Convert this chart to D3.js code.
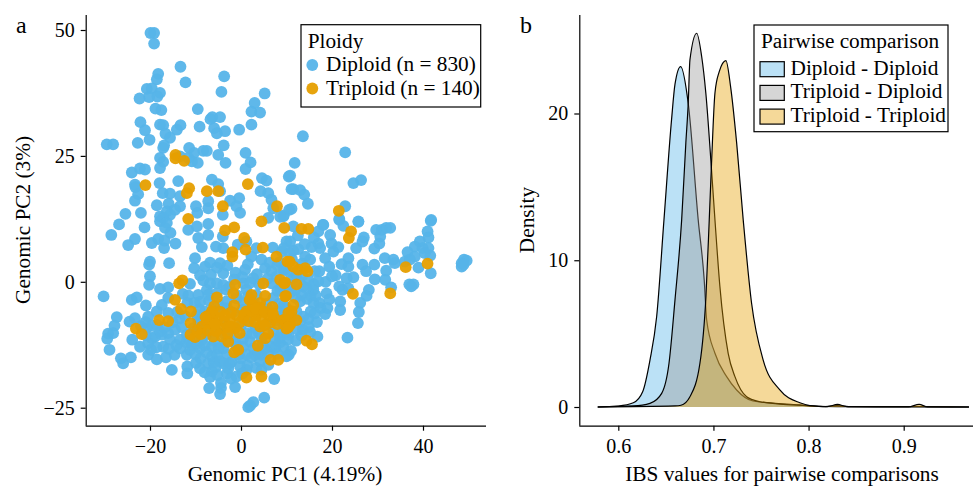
<!DOCTYPE html>
<html>
<head>
<meta charset="utf-8">
<script src="https://cdn.jsdelivr.net/npm/d3@7"></script>
<style>
  html, body { margin: 0; background: #fff; }
  text { font-family: "Liberation Serif", serif; fill: #000; }
</style>
</head>
<body>
<div id="root"></div>
<script>
// panel a, values as [PC1, PC2]
const diploidPoints = [
  [-19.9,49.4],[-19.1,49.4],[-19.1,47.3],[-13.3,42.7],[-18.2,41.3],[-18.5,40.2],[-12.2,39.6],[-3.7,40.8],[-20.7,38.3],[-19.6,38.4],
  [-17.8,37.5],[-18.4,36.8],[-20.2,36.7],[-22.3,36.4],[-4.3,37.7],[5.2,37.4],[3.0,35.5],[-18.8,34.4],[-17.5,34.1],[-9.5,34.3],
  [2.3,33.8],[4.2,33.6],[-6.3,32.7],[-4.6,32.7],[-6.7,32.3],[-22.1,31.7],[-17.8,31.2],[-17.1,31.1],[-13.3,31.1],[-14.1,30.2],
  [-9.1,30.8],[2.3,31.2],[-5.9,30.5],[-21.1,30.1],[-16.6,29.4],[-5.3,29.5],[-3.5,29.9],[-0.4,30.2],[-15.6,28.6],[-20.1,28.2],
  [-22.7,27.6],[-29.5,27.3],[-28.1,27.3],[-16.9,27.1],[-17.1,26.6],[-3.8,27.1],[-11.4,26.6],[-8.3,26.0],[-7.5,26.0],[-10.3,25.6],
  [-5.0,25.2],[1.0,25.6],[-17.8,24.6],[-17.1,23.8],[-13.4,24.9],[-9.5,23.6],[-10.8,23.9],[-11.6,24.6],[-3.4,23.6],[2.1,23.7],
  [1.0,22.4],[-24.0,21.7],[-22.2,22.5],[-21.1,22.3],[-17.8,22.6],[4.6,20.6],[5.6,20.1],[10.5,20.9],[-13.8,20.0],[-6.4,20.3],
  [-17.9,19.6],[-23.3,19.3],[-23.2,18.8],[-5.0,19.4],[4.3,18.0],[6.0,17.6],[11.1,18.4],[-17.2,17.6],[-15.6,17.5],[-22.6,17.4],
  [-4.6,18.0],[-23.3,16.1],[-13.4,17.0],[-0.4,16.6],[-2.4,16.1],[6.7,16.3],[-18.5,15.2],[-15.9,15.5],[-9.9,15.0],[-7.2,16.0],
  [-7.2,14.6],[-1.0,15.0],[7.1,14.6],[10.6,14.3],[-25.4,13.5],[-22.0,13.7],[-16.3,14.0],[-17.8,13.0],[-13.4,15.0],[-14.5,14.3],
  [-9.6,13.7],[-0.2,13.7],[-4.0,13.3],[6.0,12.7],[9.3,13.0],[-15.6,13.3],[-17.1,12.7],
  [13.6,28.9],[22.9,25.7],[11.8,23.6],[10.8,21.1],[24.7,19.6],[26.4,20.2],[11.5,18.4],[13.0,18.2],[13.9,17.3],[14.7,15.5],
  [11.1,14.5],[22.9,15.0],[9.4,13.2],[21.6,12.5],[25.8,12.0],[41.8,12.3],
  [-26.8,11.4],[-21.2,10.8],[-28.5,9.3],[-23.3,8.5],[-24.8,7.3],[-19.6,7.7],[-18.2,8.5],[-16.9,6.7],[-14.4,7.6],[-16.8,8.2],
  [-17.8,12.0],[-16.3,11.7],[-16.7,10.7],[-15.5,9.7],[-11.6,10.3],[-9.7,11.0],[-7.2,11.5],[-7.2,9.3],[-9.4,8.7],[-8.6,6.9],
  [-4.0,9.0],[-5.5,7.0],[-3.9,6.7],[-0.7,7.4],[1.2,8.0],[2.3,5.0],[3.4,6.7],[7.0,6.8],[9.0,6.0],[-20.0,4.0],
  [-20.2,3.4],[-15.8,3.7],[-10.1,4.7],[-10.3,2.7],[-7.9,3.0],[-6.8,3.8],[-4.6,3.7],[-3.9,1.7],[-6.6,1.4],[0.9,2.4],
  [4.5,4.4],[5.3,2.7],[6.7,2.1],[9.3,2.4],[-20.0,1.1],[-20.2,-0.6],[-17.8,-1.4],[-16.0,-1.1],[-11.2,-0.4],[-8.3,0.3],
  [-5.3,-0.3],[-3.9,-0.6],[0.5,-0.3],[2.7,0.7],[6.7,-0.3],[8.6,-1.6],[-30.2,-2.9],[-24.0,-3.6],[-22.9,-3.1],[-20.9,-4.7],
  [-17.4,-4.6],[-16.0,-3.2],[-11.8,-4.2],[-9.4,-2.6],[-7.5,-1.6],[-27.3,-7.0],[-27.8,-8.7],[-29.2,-10.3],[-28.1,-10.2],[-29.4,-11.3],
  [-28.9,-13.5],[-24.5,-7.9],[-23.3,-7.2],[-20.4,-6.9],[-18.5,-5.9],[-16.0,-6.2],[-23.9,-11.5],[-22.2,-12.9],[-20.4,-14.5],[-18.5,-15.4],
  [-26.4,-15.2],[-24.2,-15.0],[-25.9,-16.2],[-15.2,-17.5],[-20.7,-9.2],[-18.9,-10.9],[-17.8,-9.9],[-19.6,-11.2],[-20.4,-12.2],[-17.1,-12.9],
  [-17.4,-10.5],[-16.0,-10.2],[-14.5,-9.5],[-15.6,-11.5],[-13.4,-11.5],[-14.6,-14.5],[-11.9,-14.5],[-11.2,-13.5],[-13.4,-13.2],[-11.9,-10.5],
  [-10.8,-12.5],[-11.8,-16.8],[-11.8,-18.2],[-8.9,-15.2],[-9.0,-17.2],[-7.2,-16.2],[-6.4,-17.8],[-7.0,-21.1],[-4.4,-20.1],[-4.4,-21.1],
  [-4.6,-22.3],[-1.3,-20.9],[-1.0,-18.8],[-3.1,-18.2],[-3.9,-16.2],[-2.8,-17.2],[1.2,-17.5],[1.4,-16.6],[2.3,-15.0],[4.5,-17.5],
  [7.3,-19.3],[5.1,-23.0],[2.7,-23.9],[2.0,-24.6],[1.6,-24.9],[4.5,-14.5],[6.7,-12.9],[7.5,-13.1],[9.3,-12.9],[10.5,-14.5],
  [-7.2,-2.6],[-5.3,-2.3],[-3.2,-1.6],[-1.0,-2.6],[1.2,-1.6],[-9.7,-6.6],[-7.9,-5.9],[-10.5,-9.2],[-8.6,-11.5],[-6.4,-12.9],
  [-3.9,-13.2],[-1.0,-12.9],[2.0,-11.9],[4.5,-11.2],[7.1,-9.9],[9.3,-8.5],[-3.2,-3.9],[0.5,-4.2],[3.4,-2.6],[7.1,-3.2],
  [10.0,-5.2],[-3.2,-9.9],[1.2,-10.2],[3.1,-14.5],[-5.3,-14.5],[-6.4,-14.8],[-9.0,-13.2],[-9.7,-12.2],[-2.1,-15.9],[-0.1,-15.2],
  [4.2,-15.8],[5.3,-13.2],
  [41.7,12.1],[41.0,10.0],[41.2,8.8],[39.3,8.0],[38.2,7.0],[41.2,6.7],[41.6,5.2],[36.6,5.9],[36.0,4.0],[39.0,2.8],
  [41.7,1.7],[38.2,5.0],[37.1,4.4],[39.9,6.7],[40.4,5.7],[48.5,3.7],[49.0,4.4],[49.6,4.2],[48.5,3.0],[48.9,3.4],
  [37.0,-0.5],[37.9,-0.5],[37.4,-0.9],[31.6,4.7],[33.5,4.4],[33.8,3.7],[31.9,10.7],[32.8,10.7],[30.9,10.3],[29.7,10.3],
  [30.6,9.0],[30.4,7.6],[29.3,6.6],[25.8,11.9],[27.0,8.8],[25.3,6.7],[26.7,8.0],[22.5,11.1],[21.6,12.3],[19.6,9.3],
  [18.1,11.3],[17.0,10.0],[17.0,7.6],[17.4,6.7],[15.5,6.9],[18.5,4.7],[20.3,6.0],[21.4,6.9],[19.9,7.6],[23.6,4.7],
  [22.1,3.5],[23.6,3.0],[26.7,3.4],[29.3,3.4],[27.5,2.1],[29.4,0.5],[31.9,2.2],[31.7,0.4],[33.0,-1.1],[24.7,0.9],
  [23.2,0.7],[20.8,1.3],[19.4,3.0],[17.2,2.1],[14.1,5.0],[11.5,6.2],[10.0,8.0],[10.8,8.0],[18.0,11.3],[21.6,-0.9],
  [22.3,-1.6],[23.6,-1.3],[28.1,-1.6],[27.6,-2.8],[26.2,-4.2],[21.8,-3.9],[25.9,-6.0],[21.8,-5.6],[25.7,-8.2],[23.4,-11.1],
  [17.2,-4.2],[18.8,-2.3],[17.5,-5.2],[19.0,-5.2],[18.5,-6.4],[15.3,-5.9],[13.7,-6.9],[17.0,0.1],[15.3,-2.8],[13.3,-2.6],
  [13.7,-0.9],[15.9,-1.6],[11.9,-1.6],[11.5,0.7],[14.8,0.4],[9.7,2.4],[16.8,-10.9],[13.6,-9.5],[13.3,-10.7],[12.1,-11.7],
  [11.0,-13.7],[10.0,-14.8],[10.4,-10.5],[8.6,-11.1],[8.6,12.9],[12.2,1.4],[10.8,-0.6],[14.4,-1.3],[13.0,-3.9],[9.4,-4.6],
  [15.9,-4.2],[12.2,-5.9],[13.0,-7.9],[10.4,-8.5],[15.2,4.4],[16.2,2.1],[9.4,6.7],[10.7,5.7],
  // dense middle of the cloud
  [-9,-4],[-7,-3.8],[-5,-4.5],[-3,-5.3],[-1,-3.3],[1.5,-2.9],[3,-4.4],[5.5,-4.4],[8,-1.8],[8.3,-4.4],
  [-9.2,-5.5],[-7.4,-6.8],[-5.7,-5.9],[-3.9,-5.2],[-1.8,-6.1],[0.3,-5.6],[2.6,-5.3],[6,-5.4],[8,-6],[9.6,-6.3],
  [-9.3,-8],[-7.8,-9.2],[-6,-8],[-3.6,-8],[-2,-9],[0,-8.6],[2,-8],[3.2,-9.2],[5.5,-8.5],[8,-7.7],
  [-9.7,-10],[-7.5,-10.4],[-5.3,-9.9],[-3.7,-10.2],[-1.5,-10.6],[0.4,-11.3],[2.5,-10.3],[4,-10.2],[7.5,-11.3],[9,-10],
  [-11.3,-11.8],[-8,-12.6],[-5.8,-11.7],[-3.4,-12],[-1.3,-11.9],[0.4,-12.9],[2.8,-13.2],[4.8,-12.4],[8.5,-12],[10.3,-11.5],
  [-10,-14.4],[-7.6,-14],[-4.9,-13.2],[-3,-14.5],[-0.5,-14.4],[1.2,-14.4],[3.8,-14],[6,-14.2],[8,-14.3],[-6,-16],
  [-4.6,-15.8],[-2.5,-16.2],[-0.2,-16.8],[-5.6,-17],[-8,-18],[-6.8,-18.9],[-5.2,-18.5],[-2.2,-19.2],[0.3,-18.2],[3.3,-17.1],
  [6,-16.5],[-9.9,-16.1],[-22,-8.8],[-21,-8],[-19.5,-8.7],[-18.4,-8.6],[-16.8,-9],[-15,-8],[-13.5,-7.3],[-12.3,-6.8],
  [-14,-6],[-13,-9],[-12,-12],[-14.2,-12.6],[-15.9,-13.3],[-18.6,-13],[-19.8,-13.5],[-21,-10.6],[-16.5,-15],[-9.4,-7.7],
  [-11.6,-2.7],[-10.2,-4.2],[-12.8,-2.4],[-3,3.2],[-5.3,2.8],[-1.5,0.5],[1.5,3.5],[3.5,1.5],[7.8,1],[5.8,0.6],
  [-9,1.3],[-6.8,-0.3],[-1.2,1.8],[0.3,0.9],[6.3,3.8],[8,3.3],[4,-0.5],[2,-0.2],[-2.5,-1],[9,-0.8],
  [11,-2],[12.8,0],[13.4,1.2],[16,-0.5],[12,-3.2],[14.5,-3.4],[16.4,-2.7],[11.2,-7],[14.8,-7.4],[16.2,-6.3],
  [10,-10],[12.4,-9.5],[14.9,-9],[8.5,3.9],[10.5,2],[13.4,3.6],[11.2,4.5],[12.6,6.5],[14,7.5],[16,8.8],
  [12.5,9.2],[11.5,11],[18.6,0],[19.4,-3.5],[20,1.1],[15.2,-10],[16.7,-8]
]

const triploidPoints = [
  [-14.4,25.2],[-14.4,24.5],[-12.5,24.0],[-21.0,19.2],[-11.4,18.6],[-11.9,17.6],[-7.5,18.0],[-5.0,18.0],[1.5,19.4],[-4.0,15.0],
  [7.9,15.0],[21.5,14.1],[-11.6,12.5],[-3.5,10.2],[-1.5,10.8],[4.5,12.0],[9.5,10.7],[0.7,8.7],[-1.9,5.9],[-1.9,5.0],
  [1.0,6.4],[4.8,6.8],[7.8,5.0],[10.2,4.0],[-12.9,0.3],[-13.6,-0.3],[4.9,-0.3],[8.6,0.4],[9.5,-0.3],[-1.3,-0.6],
  [-1.7,-2.3],[2.3,-2.6],[5.3,-2.8],[9.7,-2.9],[-14.5,-3.6],[-5.3,-3.1],[-5.9,-4.9],[-1.5,-4.7],[1.9,-3.6],[4.2,-4.2],
  [6.9,-5.0],[-13.2,-5.4],[-11.0,-5.9],[-18.0,-7.6],[-16.0,-7.8],[-23.1,-9.3],[-21.8,-10.4],[-11.1,-8.2],[-11.1,-10.5],[-10.1,-11.0],
  [-8.6,-8.9],[-7.5,-7.9],[-6.1,-6.6],[-6.4,-8.5],[-5.0,-7.2],[-4.6,-9.2],[-3.5,-6.6],[-2.4,-7.6],[-1.3,-9.2],[-1.0,-6.6],
  [0.5,-7.2],[1.2,-5.9],[3.4,-6.6],[4.2,-5.2],[4.5,-7.2],[4.2,-8.9],[6.0,-6.6],[6.4,-8.1],[9.3,-7.6],[10.8,-7.2],
  [10.8,-8.5],[-6.1,-10.9],[-4.2,-10.9],[-2.8,-11.9],[6.0,-10.3],[5.3,-11.2],[3.7,-12.7],[-0.6,-13.5],[-1.5,-14.0],[6.5,-15.5],
  [8.2,-15.5],[1.2,-19.0],[4.5,-18.8],[13.3,10.5],[14.8,10.5],[24.2,10.0],[23.7,8.7],[36.2,2.9],[41.0,3.6],[24.6,-2.4],
  [32.8,-2.3],[10.7,4.0],[11.5,3.0],[12.6,2.4],[14.1,2.7],[14.6,2.1],[9.7,-0.1],[12.2,-0.5],[9.9,-2.8],[11.5,-4.6],
  [11.1,-5.9],[9.4,-7.6],[12.2,-7.6],[10.4,-6.2],[10.0,-9.3],[14.4,-11.7],[15.6,-12.4],
  [-9.6,-9.6],[-8.8,-10.4],[-7.2,-9.7],[-7.2,-6.7],[-6.4,-5.9],[-5.5,-9.8],[-4.5,-6],[-3.8,-7.8],[-3,-9],[-2.2,-6.1],
  [-2.2,-8.9],[-0.3,-8.1],[0.8,-6.4],[1.7,-7.8],[2.4,-6],[2.6,-4.6],[3.3,-5.3],[5.2,-6],[3.1,-8],[5.2,-8.6],
  [7.4,-7.2],[8,-8.4],[7,-6.3],[-7.8,-7],[-5.7,-8.4],[-2.9,-10.2],[-0.3,-10.2],[10.4,-9]
]

const pc1Ticks = [-20, 0, 20, 40]
const pc2Ticks = [-25, 0, 25, 50]

// panel b, density curves
const ddIbs = [0.5784,0.6,0.6158,0.6256,0.6333,0.6403,0.648,0.656,0.6596,0.6655,0.6735,0.684,0.6903,0.6929,0.7016,0.7139,0.7244,0.7415,0.7625,0.79,0.8045,0.83,0.92,0.9686]
const ddDensity = [0,0.07,0.29,1.04,3.2,6.15,12.75,19.6,22,23.2,20.7,12.75,8.66,5.93,3.66,2.07,1.16,0.41,0.27,0.14,0.05,0.03,0.02,0]

const tdIbs = [0.5784,0.6155,0.6333,0.6456,0.6533,0.6596,0.6666,0.671,0.6735,0.6753,0.6824,0.6876,0.692,0.698,0.7016,0.7068,0.7155,0.7226,0.7349,0.7488,0.77,0.798,0.815,0.83,0.845,0.9686]
const tdDensity = [0,0.07,0.25,0.93,2.98,7.3,12.75,18,20.7,23.65,25.47,23.9,21.4,16.15,12.75,8.2,3.66,2.07,0.7,0.36,0.2,0.1,0.03,0.1,0.02,0]

const ttIbs = [0.5784,0.6596,0.6659,0.6753,0.6858,0.6921,0.6956,0.698,0.7016,0.7061,0.7131,0.7181,0.7244,0.7313,0.7401,0.7523,0.7698,0.7908,0.8014,0.82,0.8304,0.84,0.905,0.9162,0.925,0.9686]
const ttDensity = [0,0.07,0.12,0.7,2.98,7.5,12.75,16.6,21.4,22.85,23.6,21.8,18,12.75,7.07,3.2,1.16,0.29,0.1,0.03,0.18,0.03,0.01,0.18,0.01,0]

const ibsTicks = [0.6, 0.7, 0.8, 0.9]
const densityTicks = [0, 10, 20]

const ploidyNames = ["Diploid (n = 830)", "Triploid (n = 140)"]
const comparisonNames = ["Diploid - Diploid", "Triploid - Diploid", "Triploid - Triploid"]

const BLUE = "#56B4E9"
const GREY = "#999999"
const ORANGE = "#E69F00"

function drawCharts() {
  const width = 976
  const height = 486
  const bottom = 425.7
  const top = 15
  const pointRadius = 5.9
  const tickFont = 20
  const labelFont = 21.3

  const wrapper = d3.select("#root").append("svg")
    .attr("width", width)
    .attr("height", height)
    .style("display", "block")

  // panel a
  const xPc = d3.scaleLinear().domain([-20, 40]).range([150, 423])
  const yPc = d3.scaleLinear().domain([-25, 50]).range([407.7, 30])

  const axisA = wrapper.append("g")
  axisA.append("g")
    .attr("transform", `translate(0,${bottom})`)
    .call(d3.axisBottom(xPc).tickValues(pc1Ticks).tickSize(5).tickPadding(8).tickSizeOuter(0))
    .select(".domain").attr("d", "M85.7,0.5H486")
  axisA.append("g")
    .attr("transform", "translate(85.7,0)")
    .call(d3.axisLeft(yPc).tickValues(pc2Ticks).tickSize(5).tickPadding(6).tickSizeOuter(0))
    .select(".domain").attr("d", `M0.5,${top}V${bottom}`)

  wrapper.append("g").selectAll("circle")
    .data(diploidPoints)
    .join("circle")
    .attr("cx", d => xPc(d[0]))
    .attr("cy", d => yPc(d[1]))
    .attr("r", pointRadius)
    .attr("fill", BLUE)
    .attr("fill-opacity", 0.95)

  wrapper.append("g").selectAll("circle")
    .data(triploidPoints)
    .join("circle")
    .attr("cx", d => xPc(d[0]))
    .attr("cy", d => yPc(d[1]))
    .attr("r", pointRadius)
    .attr("fill", ORANGE)
    .attr("fill-opacity", 0.95)

  // panel b
  const xIbs = d3.scaleLinear().domain([0.6, 0.9]).range([618.3, 903.7])
  const yDensity = d3.scaleLinear().domain([0, 20]).range([407, 113.5])

  const area = d3.area()
    .x(d => xIbs(d[0]))
    .y0(yDensity(0))
    .y1(d => yDensity(d[1]))
    .curve(d3.curveMonotoneX)
  const line = area.lineY1()

  const curves = [
    { color: BLUE, values: d3.zip(ddIbs, ddDensity) },
    { color: GREY, values: d3.zip(tdIbs, tdDensity) },
    { color: ORANGE, values: d3.zip(ttIbs, ttDensity) },
  ]

  const curveGroups = wrapper.append("g").selectAll("g")
    .data(curves)
    .join("g")
  curveGroups.append("path")
    .attr("d", d => area(d.values))
    .attr("fill", d => d.color)
    .attr("fill-opacity", 0.4)
  curveGroups.append("path")
    .attr("d", d => line(d.values))
    .attr("fill", "none")
    .attr("stroke", "#000")
    .attr("stroke-width", 1.2)

  const axisB = wrapper.append("g")
  axisB.append("g")
    .attr("transform", `translate(0,${bottom})`)
    .call(d3.axisBottom(xIbs).tickValues(ibsTicks).tickFormat(d3.format(".1f")).tickSize(5).tickPadding(8).tickSizeOuter(0))
    .select(".domain").attr("d", "M579.3,0.5H973")
  axisB.append("g")
    .attr("transform", "translate(579.3,0)")
    .call(d3.axisLeft(yDensity).tickValues(densityTicks).tickSize(5).tickPadding(6).tickSizeOuter(0))
    .select(".domain").attr("d", `M0.5,${top}V${bottom}`)

  wrapper.selectAll(".domain, .tick line")
    .attr("stroke", "#000")
    .attr("stroke-width", 1.2)
  wrapper.selectAll(".tick text")
    .attr("font-size", tickFont)
    .style("font-family", '"Liberation Serif", serif')
    .attr("fill", "#000")

  // axis titles and panel letters
  const addText = (x, y, str, size, anchor = "start") => wrapper.append("text")
    .attr("x", x)
    .attr("y", y)
    .attr("font-size", size)
    .attr("text-anchor", anchor)
    .text(str)

  addText(285, 481, "Genomic PC1 (4.19%)", labelFont, "middle")
  addText(782, 481, "IBS values for pairwise comparisons", labelFont, "middle")
  addText(0, 0, "Genomic PC2 (3%)", labelFont, "middle")
    .attr("transform", "translate(30,220) rotate(-90)")
  addText(0, 0, "Density", labelFont, "middle")
    .attr("transform", "translate(534,220) rotate(-90)")
  addText(16, 32.7, "a", 24)
  addText(520, 32.7, "b", 24)

  // legend panel a
  const legendA = wrapper.append("g")
  legendA.append("rect")
    .attr("x", 301).attr("y", 24.7)
    .attr("width", 179.7).attr("height", 82.3)
    .attr("fill", "#fff").attr("stroke", "#000").attr("stroke-width", 1.2)
  legendA.append("text").attr("x", 307.7).attr("y", 48.3).attr("font-size", labelFont).text("Ploidy")
  ploidyNames.forEach((name, i) => {
    legendA.append("circle")
      .attr("cx", 312.3).attr("cy", 65 + i * 23.5).attr("r", pointRadius)
      .attr("fill", i === 0 ? BLUE : ORANGE).attr("fill-opacity", 0.95)
    legendA.append("text").attr("x", 326).attr("y", 71 + i * 24).attr("font-size", labelFont).text(name)
  })

  // legend panel b
  const legendB = wrapper.append("g")
  legendB.append("rect")
    .attr("x", 754).attr("y", 25)
    .attr("width", 194).attr("height", 106.7)
    .attr("fill", "#fff").attr("stroke", "#000").attr("stroke-width", 1.2)
  legendB.append("text").attr("x", 761).attr("y", 48).attr("font-size", labelFont).text("Pairwise comparison")
  comparisonNames.forEach((name, i) => {
    legendB.append("rect")
      .attr("x", 760).attr("y", 61.7 + i * 23.7)
      .attr("width", 24.3).attr("height", 15)
      .attr("fill", curves[i].color).attr("fill-opacity", 0.4)
      .attr("stroke", "#000").attr("stroke-width", 1.2)
    legendB.append("text").attr("x", 790.5).attr("y", 75 + i * 23.4).attr("font-size", labelFont).text(name)
  })
}

drawCharts()
</script>
</body>
</html>
